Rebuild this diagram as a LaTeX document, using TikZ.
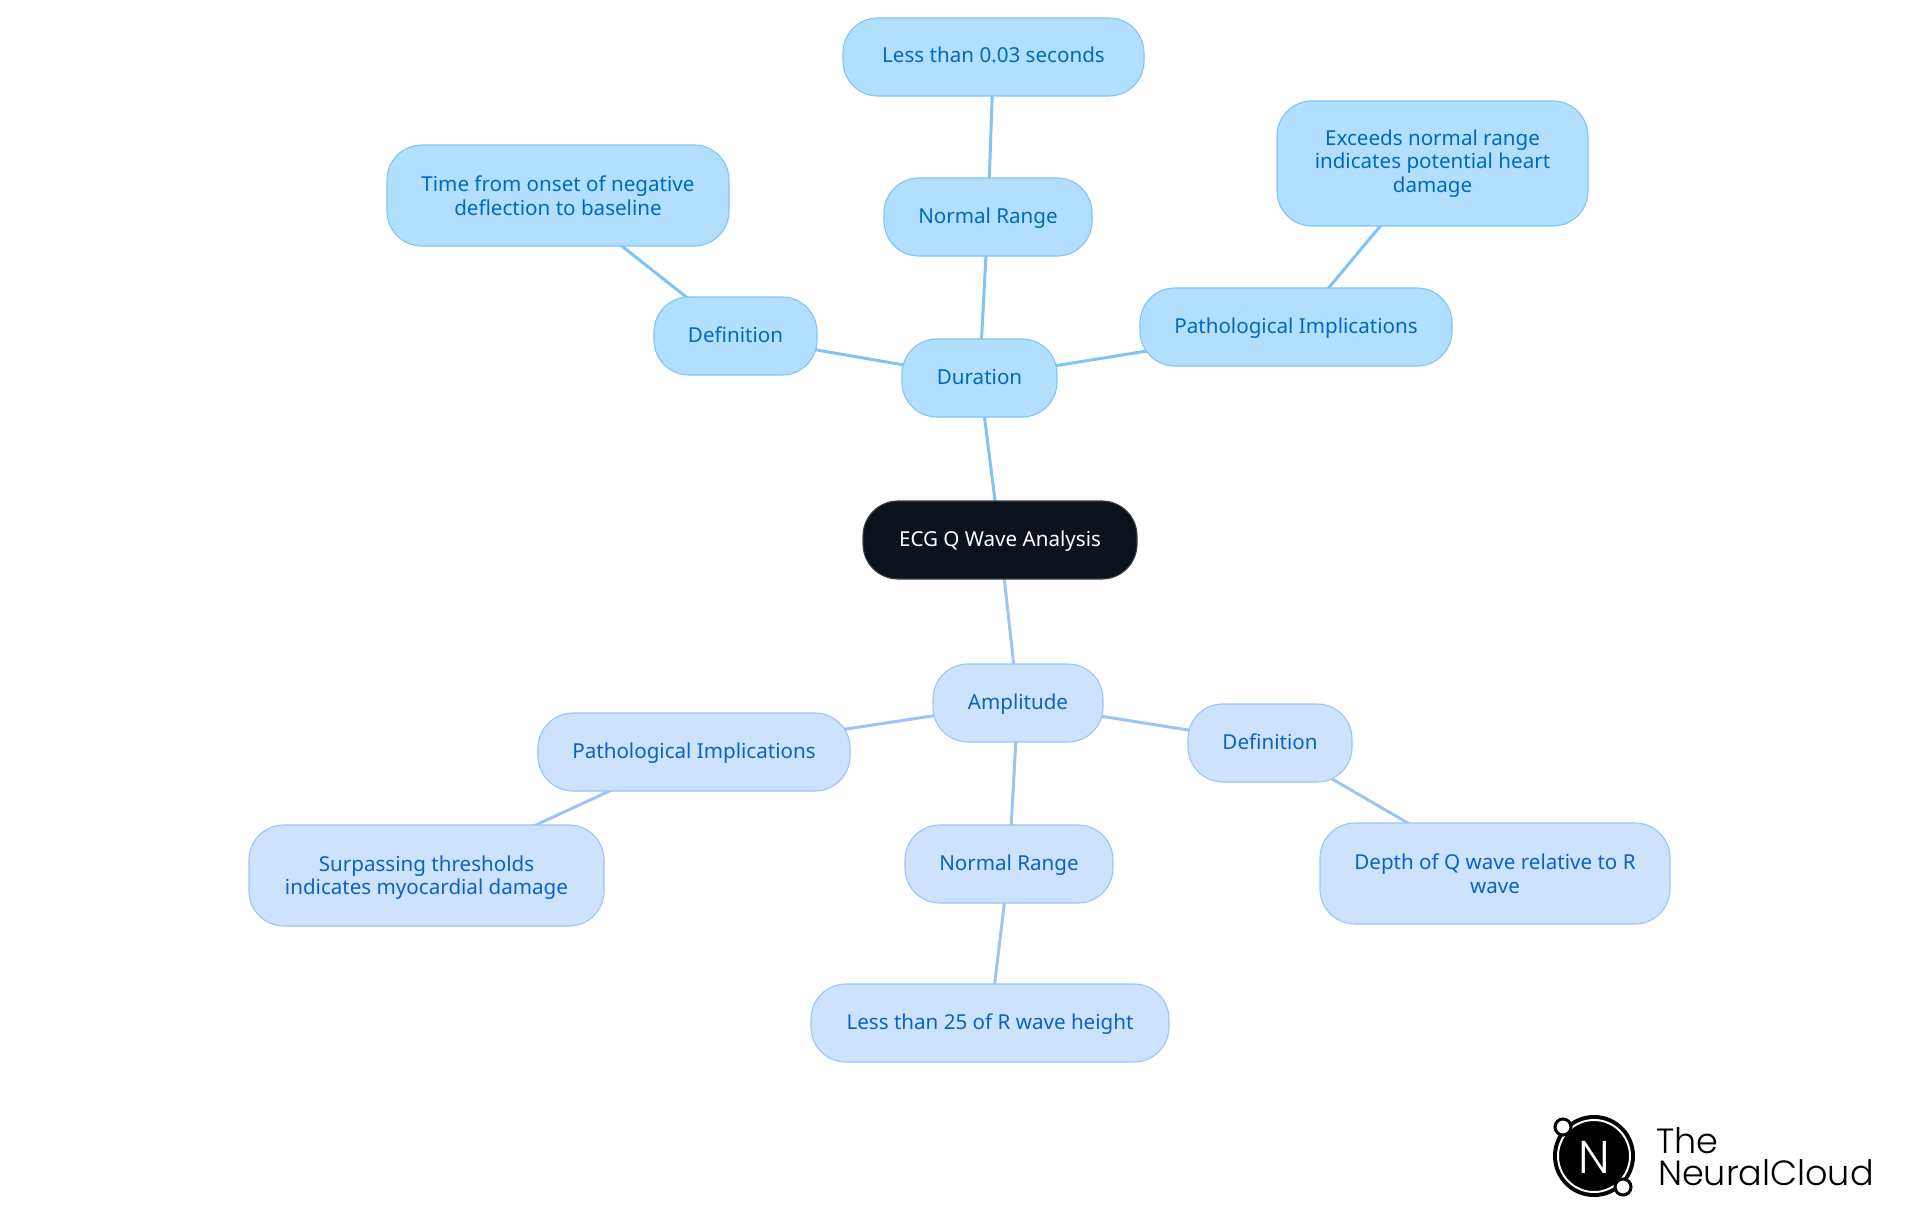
\documentclass[tikz,border=0pt]{standalone}
\usepackage{fontspec}
\setmainfont{Noto Sans}
\newfontfamily\logofont{Poppins Light}
\usetikzlibrary{backgrounds}
\definecolor{topfill}{HTML}{B3DFFF}
\definecolor{topline}{HTML}{80C4F5}
\definecolor{toptext}{HTML}{0069BF}
\definecolor{lowfill}{HTML}{CDE3FD}
\definecolor{lowline}{HTML}{9CC5F3}
\definecolor{lowtext}{HTML}{0B62C4}
\definecolor{rootfill}{HTML}{0B121B}
\definecolor{rootline}{HTML}{3C4148}
\tikzset{
  x=1pt,y=-1pt,
  box/.style={rectangle,rounded corners=35pt,line width=1.1pt,align=center,inner sep=0pt,font=\fontsize{20.6}{23.5}\selectfont},
  single/.style={execute at begin node={\rule{0pt}{20pt}},execute at end node={\rule[-8pt]{0pt}{8pt}}},
  topbox/.style={box,fill=topfill,draw=topline,text=toptext},
  lowbox/.style={box,fill=lowfill,draw=lowline,text=lowtext},
  rootbox/.style={box,fill=rootfill,draw=rootline,text=white},
  topedge/.style={draw=topline,line width=3pt},
  lowedge/.style={draw=lowline,line width=3pt},
}
\newcommand{\bx}[8]{\node[#1,minimum width=#5pt-#3pt,minimum height=#6pt-#4pt] (#2) at ({(#3+#5)/2},{(#4+#6)/2}) {#7};}
\begin{document}
\begin{tikzpicture}
\useasboundingbox (0,0) rectangle (1920,1215);
\bx{rootbox,single}{root}{863}{501}{1137}{579}{ECG Q Wave Analysis}{}
\bx{topbox,single}{dur}{902}{339}{1057}{417}{Duration}{}
\bx{topbox,single}{tdef}{654}{297}{817}{375}{Definition}{}
\bx{topbox}{tdefv}{387}{145}{729}{246}{Time from onset of negative\\deflection to baseline}{}
\bx{topbox,single}{tnr}{884}{178}{1092}{256}{Normal Range}{}
\bx{topbox,single}{tnrv}{843}{18}{1144}{96}{Less than 0.03 seconds}{}
\bx{topbox,single}{tpat}{1140}{288}{1452}{366}{Pathological Implications}{}
\bx{topbox}{tpatv}{1277}{101}{1588}{226}{Exceeds normal range\\indicates potential heart\\damage}{}
\bx{lowbox,single}{amp}{933}{664}{1103}{742}{Amplitude}{}
\bx{lowbox,single}{lpat}{538}{713}{850}{791}{Pathological Implications}{}
\bx{lowbox}{lpatv}{249}{825}{604}{926}{\rule{0pt}{20pt}Surpassing thresholds\\indicates myocardial damage}{}
\bx{lowbox,single}{lnr}{905}{825}{1113}{903}{Normal Range}{}
\bx{lowbox,single}{lnrv}{811}{984}{1169}{1062}{Less than 25 of R wave height}{}
\bx{lowbox,single}{ldef}{1188}{704}{1352}{782}{Definition}{}
\bx{lowbox}{ldefv}{1320}{823}{1670}{924}{Depth of Q wave relative to R\\wave}{}
\begin{pgfonlayer}{background}
\draw[topedge] (root.center) -- (dur.center);
\draw[topedge] (dur.center) -- (tdef.center);
\draw[topedge] (tdef.center) -- (tdefv.center);
\draw[topedge] (dur.center) -- (tnr.center);
\draw[topedge] (tnr.center) -- (tnrv.center);
\draw[topedge] (dur.center) -- (tpat.center);
\draw[topedge] (tpat.center) -- (tpatv.center);
\draw[lowedge] (root.center) -- (amp.center);
\draw[lowedge] (amp.center) -- (lpat.center);
\draw[lowedge] (lpat.center) -- (lpatv.center);
\draw[lowedge] (amp.center) -- (lnr.center);
\draw[lowedge] (lnr.center) -- (lnrv.center);
\draw[lowedge] (amp.center) -- (ldef.center);
\draw[lowedge] (ldef.center) -- (ldefv.center);
\end{pgfonlayer}
% logo
\fill[black] (1594,1156) circle[radius=41];
\draw[white,line width=2pt] (1594,1156) circle[radius=36];
\draw[fill=white,draw=black,line width=3pt] (1563,1127) circle[radius=8];
\draw[fill=white,draw=black,line width=3pt] (1623,1187) circle[radius=8];
\node[text=white,inner sep=0pt,font=\logofont\fontsize{46}{46}\selectfont] (logon) at (1594,1157) {N};
\node[anchor=base west,inner sep=0pt,font=\logofont\fontsize{35}{35}\selectfont] (logot) at (1656,1153) {The};
\node[anchor=base west,inner sep=0pt,font=\logofont\fontsize{35}{35}\selectfont] (logob) at (1658,1185) {NeuralCloud};
\end{tikzpicture}
\end{document}
